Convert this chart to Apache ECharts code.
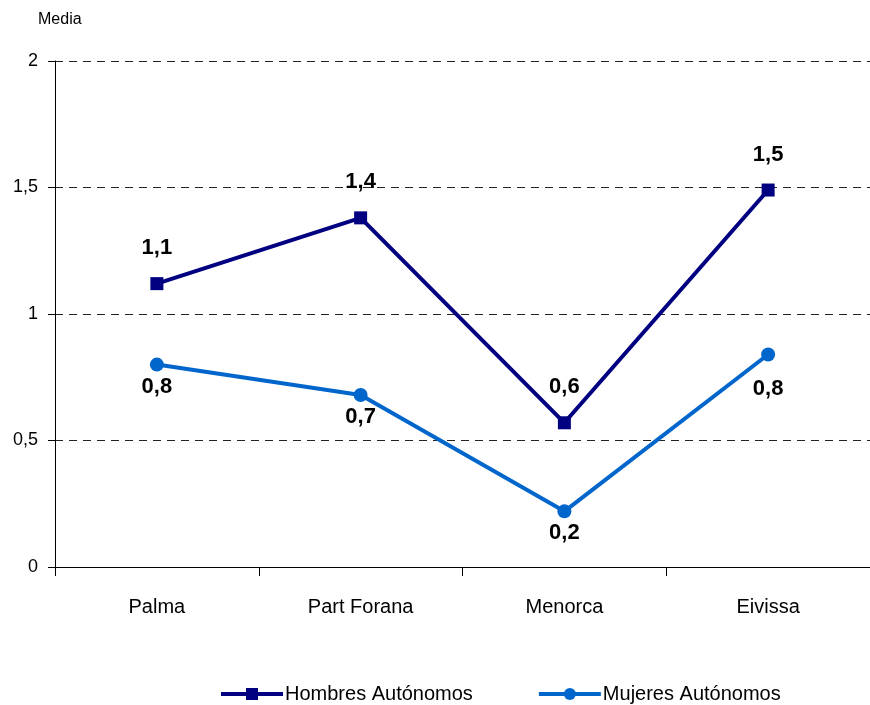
<!DOCTYPE html>
<html>
<head>
<meta charset="utf-8">
<script src="https://cdn.jsdelivr.net/npm/echarts@6/dist/echarts.min.js"></script>
<style>html,body{margin:0;padding:0;background:#fff;}#c{width:870px;height:705px;}</style>
</head>
<body>
<div id="c"></div>
<script>
var categories = ['Palma', 'Part Forana', 'Menorca', 'Eivissa'];
var hombres = [1.12, 1.38, 0.57, 1.49];
var mujeres = [0.80, 0.68, 0.22, 0.84];
var seriesNames = ['Hombres Autónomos', 'Mujeres Autónomos'];
var yTicks = [0, 0.5, 1, 1.5, 2];

var FONT = '"Liberation Sans", Arial, sans-serif';
function fmt(v) { return String(v).replace('.', ','); }
function fmtLabel(p) { return p.value.toFixed(1).replace('.', ','); }

var mujeresData = mujeres.map(function (v, i) {
  return i === 3 ? {value: v, label: {distance: 16}} : v;
});

var chart = echarts.init(document.getElementById('c'), null, {renderer: 'canvas'});
chart.setOption({
  animation: false,
  backgroundColor: '#fff',
  grid: {left: 55, right: 0, top: 61, bottom: 138, containLabel: false},
  legend: {
    top: 679,
    left: 214,
    itemGap: 64,
    itemWidth: 62,
    itemHeight: 15,
    data: seriesNames,
    lineStyle: {width: 4},
    textStyle: {fontFamily: FONT, fontSize: 20, color: '#000', padding: [0, 0, 0, -3]}
  },
  xAxis: {
    type: 'category',
    data: categories,
    boundaryGap: true,
    axisLine: {lineStyle: {color: '#000', width: 1}},
    axisTick: {show: true, length: 9, lineStyle: {color: '#000'}},
    axisLabel: {fontFamily: FONT, fontSize: 20, color: '#000', margin: 30}
  },
  yAxis: {
    type: 'value',
    min: yTicks[0],
    max: yTicks[yTicks.length - 1],
    interval: 0.5,
    name: 'Media',
    nameLocation: 'end',
    nameGap: 41,
    nameTextStyle: {fontFamily: FONT, fontSize: 16, color: '#000', align: 'left', verticalAlign: 'middle', padding: [0, 0, 0, -17]},
    axisLine: {show: true, lineStyle: {color: '#000', width: 1}},
    axisTick: {show: true, length: 7, lineStyle: {color: '#000'}},
    axisLabel: {fontFamily: FONT, fontSize: 18, color: '#000', margin: 17, formatter: function (v) { return fmt(v); }},
    splitLine: {show: true, lineStyle: {color: '#222', type: [8, 6], width: 1}}
  },
  series: [
    {
      name: seriesNames[0],
      type: 'line',
      data: hombres,
      symbol: 'rect',
      symbolSize: 13,
      color: '#000080',
      lineStyle: {width: 4, color: '#000080'},
      itemStyle: {color: '#000080'},
      label: {show: true, position: 'top', distance: 18, formatter: fmtLabel,
        fontFamily: FONT, fontSize: 22, fontWeight: 'bold', color: '#000'},
      z: 3
    },
    {
      name: seriesNames[1],
      type: 'line',
      data: mujeresData,
      symbol: 'circle',
      symbolSize: 14,
      color: '#0066CC',
      lineStyle: {width: 4, color: '#0066CC'},
      itemStyle: {color: '#0066CC'},
      label: {show: true, position: 'bottom', distance: 4, formatter: fmtLabel,
        fontFamily: FONT, fontSize: 22, fontWeight: 'bold', color: '#000'},
      z: 3
    }
  ]
});
</script>
</body>
</html>
